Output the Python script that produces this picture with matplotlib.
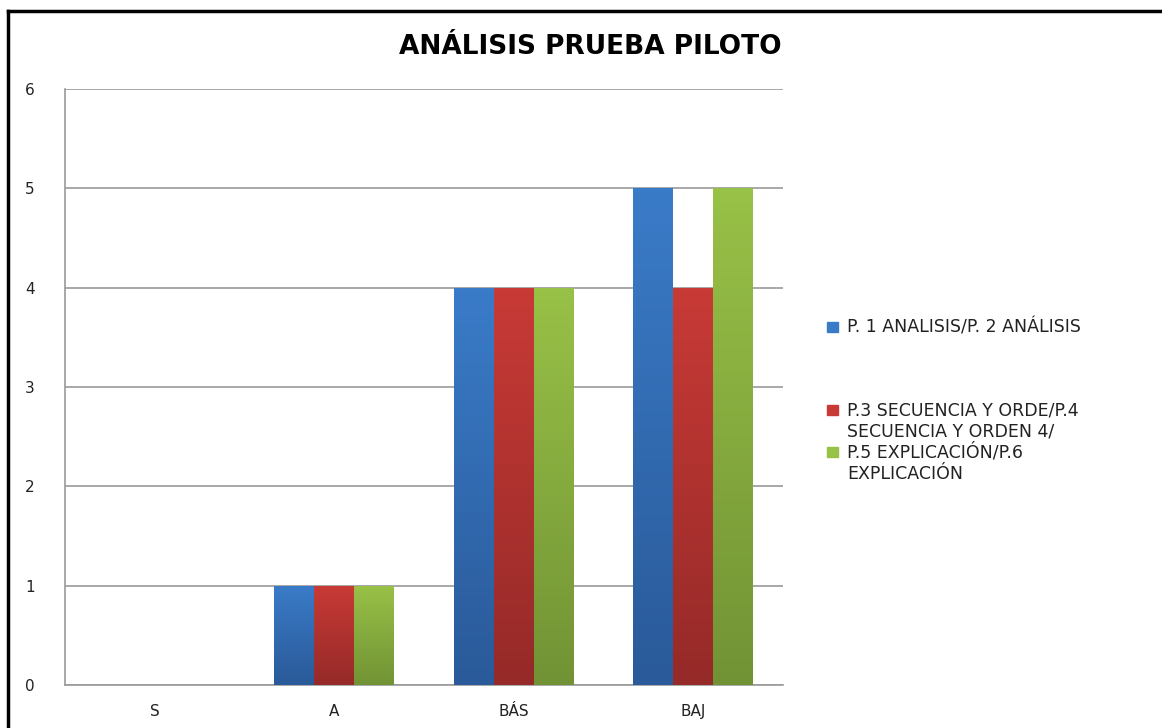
import numpy as np
from matplotlib import pyplot as plt
from matplotlib.lines import Line2D
import matplotlib.colors as mcolors

# DATOS
categorias = ["S", "A", "BÁS", "BAJ"]
p1_analisis = [0, 1, 4, 5]
p3_secuencia = [0, 1, 4, 4]
p5_explicacion = [0, 1, 4, 5]
series = [p1_analisis, p3_secuencia, p5_explicacion]
etiquetas = ["P. 1 ANALISIS/P. 2 ANÁLISIS",
             "P.3 SECUENCIA Y ORDE/P.4\nSECUENCIA Y ORDEN 4/",
             "P.5 EXPLICACIÓN/P.6\nEXPLICACIÓN"]
colores = ["#3a7bc8", "#c83a36", "#98c147"]
oscuros = ["#2a5a99", "#952a28", "#729335"]

fig = plt.figure(figsize=(11.62, 7.28), dpi=100)
W, H = 1162, 728
ax = fig.add_axes([65 / W, 1 - 685 / H, (783 - 65) / W, (685 - 89) / H])

x = np.arange(len(categorias))
ancho = 0.222
for k, vals in enumerate(series):
    pos = x + (k - 1) * ancho
    barras = ax.bar(pos, vals, width=ancho, color=colores[k], zorder=3)
    cmap = mcolors.LinearSegmentedColormap.from_list("g", [oscuros[k], colores[k]])
    for b in barras:
        if b.get_height() == 0:
            continue
        x0, y0 = b.get_x(), b.get_y()
        grad = np.linspace(0, 1, 100).reshape(-1, 1)
        im = ax.imshow(grad, cmap=cmap, origin="lower", aspect="auto",
                       extent=[x0, x0 + b.get_width(), y0, y0 + b.get_height()],
                       zorder=3.5)
        im.set_clip_path(b)

ax.set_xlim(-0.5, len(categorias) - 0.5)
ax.set_ylim(0, 6)
ax.set_yticks(range(7))
ax.set_xticks(x)
ax.set_xticklabels(categorias)
ax.yaxis.grid(True, color="#9a9a9a", linewidth=1.2, zorder=0)
for s in ["top", "right"]:
    ax.spines[s].set_visible(False)
for s in ["left", "bottom"]:
    ax.spines[s].set_color("#9a9a9a")
    ax.spines[s].set_linewidth(1.2)
ax.tick_params(length=0, labelsize=11, colors="#222222")
ax.tick_params(axis="y", pad=22)
ax.tick_params(axis="x", pad=14)

fig.text(590 / W, 1 - 47 / H, "ANÁLISIS PRUEBA PILOTO", ha="center", va="center",
         fontsize=19, fontweight="bold")

# leyenda
ys = [327, 410, 452]
for k in range(3):
    fig.patches.append(plt.Rectangle((827 / W, 1 - (ys[k] + 5) / H), 11 / W, 10 / H,
                                     transform=fig.transFigure, color=colores[k]))
    fig.text(847 / W, 1 - (ys[k] - 9) / H, etiquetas[k], ha="left", va="top",
             fontsize=12.5, color="#222222", linespacing=1.25, family="DejaVu Sans")

# marco
fig.add_artist(Line2D([8 / W, 8 / W], [0, 1 - 11 / H], color="black", lw=2.5))
fig.add_artist(Line2D([8 / W, 1], [1 - 11 / H, 1 - 11 / H], color="black", lw=2.5))

fig.savefig("out.png", dpi=100)
